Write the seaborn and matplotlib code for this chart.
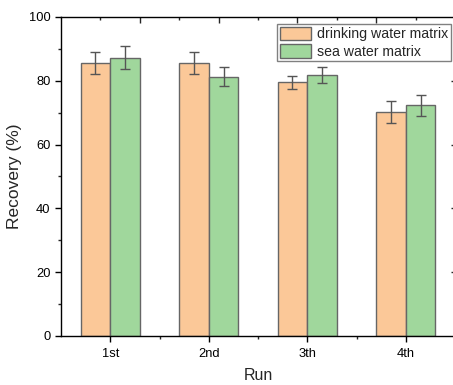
import matplotlib
matplotlib.use("Agg")
import matplotlib.pyplot as plt
import seaborn as sns
import pandas as pd
import numpy as np
from matplotlib.ticker import MultipleLocator, FixedLocator

runs = ["1st", "2nd", "3th", "4th"]
series = ["drinking water matrix", "sea water matrix"]
drinking = [85.5, 85.5, 79.5, 70.2]
drinking_err = [3.5, 3.5, 2.1, 3.5]
sea = [87.3, 81.3, 81.8, 72.3]
sea_err = [3.5, 2.9, 2.4, 3.4]
colors = ["#FBC898", "#A0D79C"]

sns.set_theme(style="ticks")
plt.rcParams["font.family"] = ["Liberation Sans", "DejaVu Sans"]

df = pd.DataFrame({
    "Run": runs * 2,
    "Series": [series[0]] * 4 + [series[1]] * 4,
    "Recovery": drinking + sea,
    "Err": drinking_err + sea_err,
})

fig = plt.figure(figsize=(4.53, 3.85), dpi=100)
W, H = 453, 385
ax = fig.add_axes([61 / W, (H - 336) / H, 394 / W, 319 / H])

sns.barplot(data=df, x="Run", y="Recovery", hue="Series", hue_order=series,
            palette=colors, width=0.6, errorbar=None, saturation=1,
            edgecolor="#666666", linewidth=1.0, ax=ax)

errs = [drinking_err, sea_err]
for cont, err in zip(ax.containers, errs):
    xs = [p.get_x() + p.get_width() / 2 for p in cont.patches]
    ys = [p.get_height() for p in cont.patches]
    ax.errorbar(xs, ys, yerr=err, fmt="none", ecolor="#555555",
                elinewidth=1.0, capsize=3.6, capthick=1.0, zorder=5)

ax.set_xlim(-0.5, 3.5)
ax.set_ylim(0, 100)
ax.yaxis.set_major_locator(MultipleLocator(20))
ax.yaxis.set_minor_locator(MultipleLocator(10))
ax.xaxis.set_minor_locator(FixedLocator([0.5, 1.5, 2.5]))

ax.set_xlabel("Run", fontsize=11.5, labelpad=6)
ax.set_ylabel("Recovery (%)", fontsize=12.5, labelpad=5)

for side in ["left", "bottom", "top", "right"]:
    ax.spines[side].set_visible(True)
    ax.spines[side].set_color("black")
    ax.spines[side].set_linewidth(1.0)

ax.tick_params(axis="both", which="major", direction="out", length=4.5, width=1,
               labelsize=9.3, colors="black", pad=3)
ax.tick_params(axis="both", which="minor", direction="out", length=2.5, width=1)
ax.tick_params(axis="x", which="major", pad=4)

# top axis: independent 0..5 scale with inward ticks
top = ax.secondary_xaxis("top", functions=(lambda x: (x + 0.5) * 5 / 4,
                                           lambda t: t * 4 / 5 - 0.5))
top.set_xticks([1, 2, 3, 4])
top.xaxis.set_minor_locator(FixedLocator([0.5, 1.5, 2.5, 3.5, 4.5]))
top.tick_params(which="major", direction="in", length=4.5, width=1, labeltop=False)
top.tick_params(which="minor", direction="in", length=2.5, width=1)
top.spines["top"].set_visible(False)

right = ax.secondary_yaxis("right")
right.set_yticks([20, 40, 60, 80])
right.tick_params(which="major", direction="in", length=3, width=1, labelright=False)
right.spines["right"].set_visible(False)

ax.legend(loc="upper right", bbox_to_anchor=(450.7 / W, 1 - 23.7 / H),
          bbox_transform=fig.transFigure, borderaxespad=0, frameon=True,
          fancybox=False, edgecolor="#808080", framealpha=1, fontsize=10.2,
          handlelength=2.2, handleheight=1.1, labelspacing=0.2,
          borderpad=0.2, handletextpad=0.4, title=None)
ax.get_legend().get_frame().set_linewidth(1.0)

fig.savefig("out.png", dpi=100)
